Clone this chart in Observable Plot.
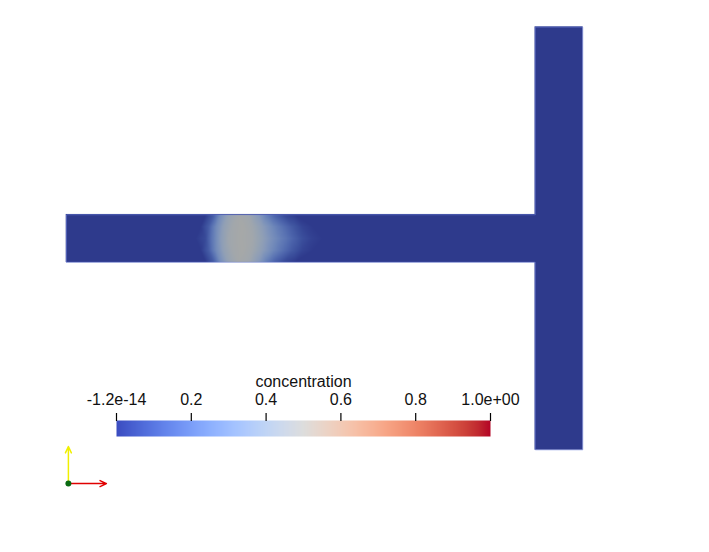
<!DOCTYPE html>
<html>
<head>
<meta charset="utf-8">
<script src="https://cdn.jsdelivr.net/npm/d3@7"></script>
<script src="https://cdn.jsdelivr.net/npm/@observablehq/plot@0.6"></script>
<style>
  html, body { margin: 0; padding: 0; background: #ffffff; }
  #wrap { position: relative; width: 709px; height: 552px; overflow: hidden; }
  #wrap svg { position: absolute; left: 0; top: 0; }
</style>
</head>
<body>
<div id="wrap"></div>
<script>
// ---- Geometry of the T-junction (channel width = 1 unit) ----
const channelNames = ["inlet", "branch"];
const channelX1 = [0, 9.87];
const channelX2 = [9.87, 10.87];
const channelY1 = [-0.5, -4.45];
const channelY2 = [0.5, 4.45];

// ---- Concentration samples (rows across the inlet channel) ----
const rowY = [-0.5, -0.25, 0, 0.25, 0.5];
const wallX = [0, 2.926, 3.095, 3.242, 3.411, 3.621, 3.832, 4.042, 4.211, 4.379, 4.589, 4.821, 9.87];
const wallC = [0, 0, 0.1, 0.28, 0.4, 0.46, 0.44, 0.34, 0.22, 0.12, 0.04, 0, 0];
const quarterX = [0, 2.821, 2.989, 3.137, 3.305, 3.495, 3.705, 3.916, 4.126, 4.337, 4.547, 4.758, 4.968, 5.2, 9.87];
const quarterC = [0, 0, 0.1, 0.25, 0.38, 0.45, 0.47, 0.44, 0.36, 0.26, 0.17, 0.09, 0.03, 0, 0];
const centerX = [0, 2.716, 2.926, 3.074, 3.242, 3.411, 3.663, 3.916, 4.126, 4.337, 4.547, 4.758, 4.968, 5.179, 5.4, 9.87];
const centerC = [0, 0, 0.05, 0.2, 0.35, 0.44, 0.47, 0.45, 0.38, 0.29, 0.21, 0.13, 0.06, 0.02, 0, 0];

// ---- Colour bar ----
const barTicks = [0, 0.2, 0.4, 0.6, 0.8, 1.0];
const barTickLabels = ["-1.2e-14", "0.2", "0.4", "0.6", "0.8", "1.0e+00"];
const barTitle = "concentration";

// Cool to Warm (Moreland) stops
const cwPos = d3.range(33).map(i => i / 32);
const cwColors = [
  [59,76,192],[68,90,204],[77,104,215],[87,117,225],[98,130,234],[108,142,241],[119,154,247],[130,165,251],
  [141,176,254],[152,185,255],[163,194,255],[174,201,253],[184,208,249],[194,213,244],[204,217,238],[213,219,230],
  [221,221,221],[229,216,209],[236,211,197],[241,204,185],[245,196,173],[247,187,160],[247,177,148],[247,166,135],
  [244,154,123],[241,141,111],[236,127,99],[229,112,88],[222,96,77],[213,80,66],[203,62,56],[192,40,47],[180,4,38]
];

// ---- build tables ----
const samples = [];
const rowsX = [wallX, quarterX, centerX, quarterX, wallX];
const rowsC = [wallC, quarterC, centerC, quarterC, wallC];
rowY.forEach((y, r) => rowsX[r].forEach((x, i) => samples.push({x, y, c: rowsC[r][i]})));
const channels = channelNames.map((name, i) => ({name, x1: channelX1[i], x2: channelX2[i], y1: channelY1[i], y2: channelY2[i], c: 0}));
const [h, v] = channels;
const outline = [
  [h.x1, h.y1], [h.x1, h.y2], [h.x2, h.y2], [v.x1, v.y2], [v.x2, v.y2],
  [v.x2, v.y1], [v.x1, v.y1], [h.x2, h.y1], [h.x1, h.y1]
].map(([x, y]) => ({x, y}));

const shade = [0.78, 0.765, 0.73]; // lighting of the 3D render
const litColors = cwColors.map(([r, g, b]) => `rgb(${Math.round(r*shade[0])},${Math.round(g*shade[1])},${Math.round(b*shade[2])})`);
const brightColors = cwColors.map(([r, g, b]) => `rgb(${r},${g},${b})`);

const W = 709, H = 552;
const px = 47.5, x0px = 66, y0px = 238;
const xDom = [-x0px / px, (W - x0px) / px];
const yDom = [-(H - y0px) / px, y0px / px];

const field = Plot.plot({
  width: W, height: H,
  margin: 0,
  x: {domain: xDom, axis: null},
  y: {domain: yDom, axis: null},
  color: {type: "linear", domain: cwPos, range: litColors, interpolate: "rgb"},
  marks: [
    Plot.rect(channels, {x1: "x1", x2: "x2", y1: "y1", y2: "y2", fill: "c", inset: -0.3}),
    Plot.raster(samples, {x: "x", y: "y", fill: "c", x1: 0, x2: 9.87, y1: -0.5, y2: 0.5, interpolate: "barycentric"}),
    Plot.line(outline, {x: "x", y: "y", stroke: "#7485e0", strokeOpacity: 0.5, strokeWidth: 1}),
    // orientation glyph
    Plot.arrow([{x1: 0.04, y1: -5.16, x2: 0.04, y2: -4.38}], {x1: "x1", y1: "y1", x2: "x2", y2: "y2", stroke: "#f0f000", strokeWidth: 1.5, headLength: 7, headAngle: 50}),
    Plot.arrow([{x1: 0.08, y1: -5.16, x2: 0.84, y2: -5.16}], {x1: "x1", y1: "y1", x2: "x2", y2: "y2", stroke: "#e00000", strokeWidth: 1.5, headLength: 7, headAngle: 50}),
    Plot.dot([{x: 0.04, y: -5.16}], {x: "x", y: "y", r: 3, fill: "#0a6a12"})
  ]
});

const bar = Plot.plot({
  width: W, height: H,
  marginLeft: 116, marginRight: W - 490, marginTop: 420, marginBottom: H - 436,
  x: {domain: [0, 1], axis: null},
  y: {domain: [0, 1], axis: null},
  color: {type: "linear", domain: cwPos, range: brightColors, interpolate: "rgb"},
  style: {fontFamily: "'Liberation Sans', Arial, sans-serif"},
  marks: [
    Plot.raster({x1: 0, x2: 1, y1: 0, y2: 1, fill: (x, y) => x, pixelSize: 1}),
    Plot.axisX(barTicks, {anchor: "top", tickSize: 8, tickPadding: 8, tickFormat: (d, i) => barTickLabels[i], fontSize: 16, stroke: "#000", fill: "#111", strokeWidth: 1.2}),
    Plot.text([barTitle], {frameAnchor: "top", dy: -34, fontSize: 16, fill: "#111", text: d => d, lineAnchor: "bottom"})
  ]
});

document.getElementById("wrap").append(field, bar);
</script>
</body>
</html>
